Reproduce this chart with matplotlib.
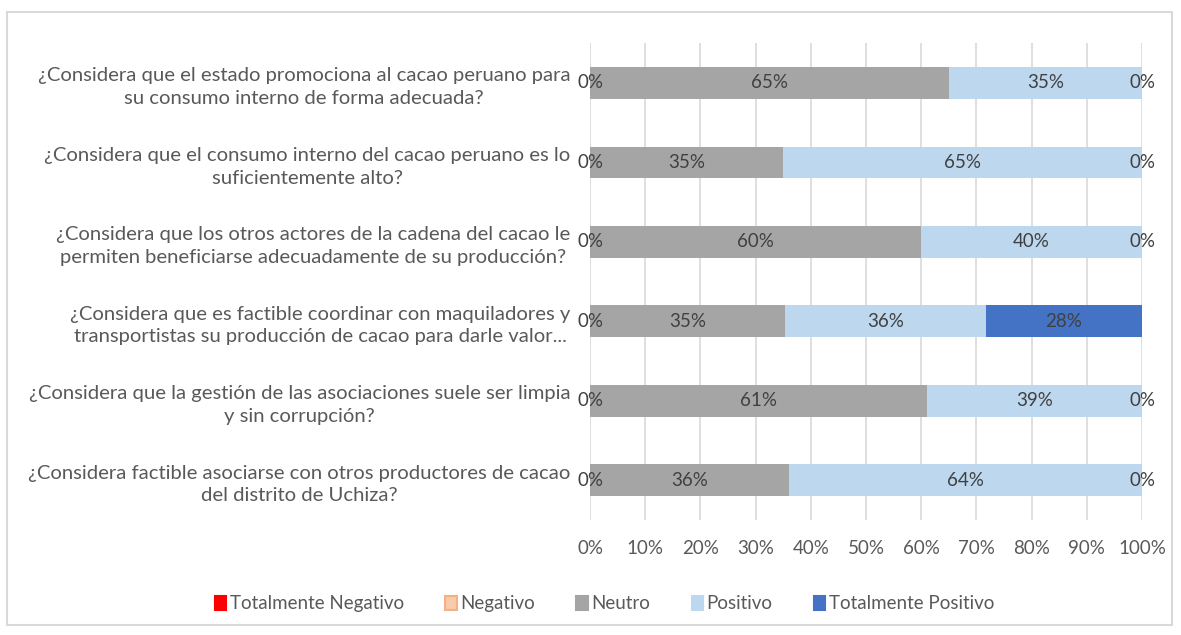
import matplotlib.pyplot as plt
from matplotlib.patches import Patch, Rectangle
import numpy as np

plt.rcParams['font.family'] = ['Lato', 'DejaVu Sans']

preguntas = [
    "¿Considera que el estado promociona al cacao peruano para\nsu consumo interno de forma adecuada?",
    "¿Considera que el consumo interno del cacao peruano es lo\nsuficientemente alto?",
    "¿Considera que los otros actores de la cadena del cacao le\npermiten beneficiarse adecuadamente de su producción?",
    "¿Considera que es factible coordinar con maquiladores y\ntransportistas su producción de cacao para darle valor...",
    "¿Considera que la gestión de las asociaciones suele ser limpia\ny sin corrupción?",
    "¿Considera factible asociarse con otros productores de cacao\ndel distrito de Uchiza?",
]
categorias = ["Totalmente Negativo", "Negativo", "Neutro", "Positivo", "Totalmente Positivo"]
tot_negativo = [0, 0, 0, 0, 0, 0]
negativo = [0, 0, 0, 0, 0, 0]
neutro = [65, 35, 60, 35, 61, 36]
positivo = [35, 65, 40, 36, 39, 64]
tot_positivo = [0, 0, 0, 28, 0, 0]

colores = ["#FF0000", "#F8CBAD", "#A5A5A5", "#BDD7EE", "#4472C4"]
bordes = ["#FF0000", "#F4B183", "#A5A5A5", "#BDD7EE", "#4472C4"]
texto = "#595959"

valores = np.array([tot_negativo, negativo, neutro, positivo, tot_positivo], dtype=float)
shares = valores / valores.sum(axis=0) * 100  # 100% stacked

fig = plt.figure(figsize=(11.81, 6.35), dpi=100)
ax = fig.add_axes([0.4996, 0.181, 0.4674, 0.751])

y = np.arange(len(preguntas))
left = np.zeros(len(preguntas))
for i, cat in enumerate(categorias):
    ax.barh(y, shares[i], left=left, height=0.4, color=colores[i], label=cat, zorder=2)
    for j in range(len(preguntas)):
        if i == 1 and valores[i, j] == 0 and valores[0, j] == 0:
            continue  # same spot as Totalmente Negativo
        ax.text(left[j] + shares[i, j] / 2, y[j], f"{valores[i, j]:.0f}%",
                ha="center", va="center", fontsize=13.5, color="#404040", zorder=3)
    left += shares[i]

ax.set_xlim(0, 100)
ax.set_ylim(5.5, -0.5)
ax.set_xticks(np.arange(0, 101, 10))
ax.set_xticklabels([f"{v}%" for v in range(0, 101, 10)], fontsize=13.5, color=texto)
ax.set_yticks(y)
ax.set_yticklabels(preguntas, fontsize=14.6, color=texto, multialignment="center",
                   linespacing=1.4)
ax.tick_params(length=0)
ax.tick_params(axis="y", pad=14)
ax.tick_params(axis="x", pad=14)
ax.grid(axis="x", color="#D9D9D9", linewidth=1.2, zorder=0)
for s in ax.spines.values():
    s.set_visible(False)

handles = [Patch(facecolor=c, edgecolor=b, linewidth=1.5) for c, b in zip(colores, bordes)]
fig.legend(handles, categorias, loc="center", bbox_to_anchor=(0.512, 0.049), ncol=5,
           frameon=False, fontsize=13.5, labelcolor=texto, handlelength=0.6,
           handleheight=0.8, handletextpad=0.2, columnspacing=2.2)

fig.patches.append(Rectangle((7 / 1181, 10 / 635), 1165 / 1181, 613 / 635,
                             transform=fig.transFigure, fill=False,
                             edgecolor="#D9D9D9", linewidth=1.5))

fig.savefig("out.png", dpi=100)
